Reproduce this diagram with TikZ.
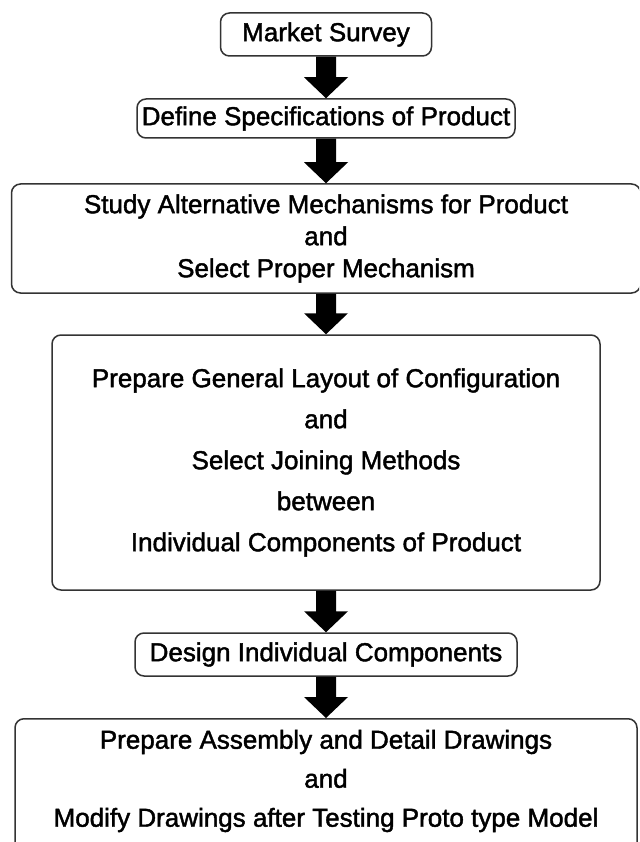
\documentclass[tikz,border=0pt]{standalone}
\usepackage{fontspec}
\newfontfamily\labfont{Liberation Sans}[FakeBold=1.6]
\usetikzlibrary{calc}
\tikzset{
  box/.style={draw=black!80, line width=1.5pt, rounded corners=9pt, inner sep=0pt, align=center, fill=white},
  lab/.style={inner sep=0pt, align=center},
  arrowfill/.style={fill=black}
}
\newcommand{\flowarrow}[2]{%
  \fill[arrowfill] ($(#1.south)+(-10pt,0)$) -- ($(#1.south)+(10pt,0)$) -- ($(#2.north)+(10pt,21pt)$)
    -- ($(#2.north)+(22pt,21pt)$) -- (#2.north) -- ($(#2.north)+(-22pt,21pt)$)
    -- ($(#2.north)+(-10pt,21pt)$) -- cycle;}
\begin{document}
\begin{tikzpicture}[x=1pt,y=1pt]
\useasboundingbox[fill=white] (0,0) rectangle (639,-842);
\begin{scope}
\clip (0,0) rectangle (639,-842);
\node[box, minimum width=211pt, minimum height=43pt, font=\labfont\fontsize{26}{32}\selectfont] (b1) at (326,-34.5) {Market Survey};
\node[box, minimum width=378pt, minimum height=39pt, font=\labfont\fontsize{26}{32}\selectfont] (b2) at (326,-118.5) {Define Specifications of Product};
\node[box, minimum width=629pt, minimum height=109pt, font=\labfont\fontsize{26}{32}\selectfont] (b3) at (326,-238.5) {Study Alternative Mechanisms for Product\\and\\Select Proper Mechanism};
\node[box, minimum width=548pt, minimum height=255pt, font=\labfont\fontsize{26}{41}\selectfont] (b4) at (326,-462.5) {Prepare General Layout of Configuration\\and\\Select Joining Methods\\between\\Individual Components of Product};
\node[box, minimum width=382pt, minimum height=43pt, font=\labfont\fontsize{26}{32}\selectfont] (b5) at (326,-654.5) {Design Individual Components};
\node[box, minimum width=622pt, minimum height=142pt, anchor=north] (b6) at (326,-718) {};
\node[lab, font=\labfont\fontsize{26}{39}\selectfont] (b6t) at (326,-781) {Prepare Assembly and Detail Drawings\\and\\Modify Drawings after Testing Proto type Model};
\flowarrow{b1}{b2}
\flowarrow{b2}{b3}
\flowarrow{b3}{b4}
\flowarrow{b4}{b5}
\flowarrow{b5}{b6}
\end{scope}
\end{tikzpicture}
\end{document}
